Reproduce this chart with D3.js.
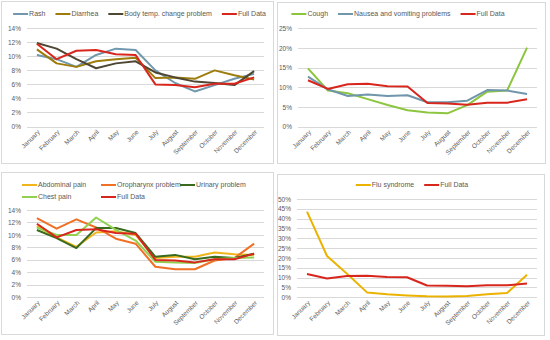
<!DOCTYPE html>
<html><head><meta charset="utf-8">
<script src="https://cdn.jsdelivr.net/npm/d3@7"></script>
<style>body{margin:0;background:#fff}svg{display:block}text{font-family:"Liberation Sans",Arial,sans-serif}</style>
</head><body><svg id="c" width="550" height="340"></svg>
<script>
const months = ["January","February","March","April","May","June","July","August","September","October","November","December"];
const fullData = [11.8,9.6,10.8,10.9,10.3,10.2,6.0,5.9,5.6,6.1,6.1,7.0];
const rash = [10.2,9.6,8.5,10.2,11.1,10.9,8.0,6.2,5.0,5.9,6.8,7.5];
const diarrhea = [11.0,9.0,8.5,9.3,9.6,9.8,6.9,7.0,6.8,8.0,7.3,6.7];
const bodyTemp = [11.9,11.1,9.6,8.3,9.0,9.3,7.7,7.0,6.4,6.2,5.9,7.9];
const cough = [14.8,9.2,8.5,7.0,5.5,4.2,3.6,3.4,5.5,8.9,9.2,20.1];
const nausea = [12.7,9.5,7.8,8.2,7.8,8.0,6.2,6.2,6.6,9.3,9.2,8.3];
const abdominal = [11.4,9.6,8.1,10.4,10.6,10.0,6.3,6.5,6.5,7.2,6.9,6.8];
const oropharynx = [12.7,11.0,12.5,11.2,9.4,8.6,4.9,4.5,4.5,5.9,6.3,8.6];
const urinary = [10.8,9.5,7.9,11.1,11.1,10.3,6.5,6.8,6.1,6.5,6.3,7.0];
const chestPain = [11.2,10.0,10.0,12.8,10.8,9.1,5.7,5.6,5.5,6.1,6.3,6.4];
const flu = [43.6,21.0,12.0,2.5,1.5,0.9,0.5,0.4,0.6,1.5,2.2,11.5];
const ticks1 = [0,2,4,6,8,10,12,14];
const ticks2 = [0,5,10,15,20,25];
const ticks4 = [0,5,10,15,20,25,30,35,40,45,50];

const svg = d3.select("#c");
const panels = [
  {box:[1,1,273,163], x:[27,264], y:[126.5,28.3], ticks:ticks1,
   series:[["Rash",rash,"#7097ad"],["Diarrhea",diarrhea,"#9e7c0c"],["Body temp. change problem",bodyTemp,"#4e4733"],["Full Data",fullData,"#d8261d"]],
   legend:{type:"row", y:14, cx:139.5}},
  {box:[277,2,545,163], x:[298,537], y:[126.7,28.3], ticks:ticks2,
   series:[["Cough",cough,"#8cc63f"],["Nausea and vomiting problems",nausea,"#6f96ab"],["Full Data",fullData,"#d8261d"]],
   legend:{type:"row", y:14, cx:398}},
  {box:[1,172,273,334], x:[27,264], y:[297.3,210], ticks:ticks1,
   series:[["Abdominal pain",abdominal,"#f2b41b"],["Oropharynx problem",oropharynx,"#f07025"],["Urinary problem",urinary,"#386b1d"],["Chest pain",chestPain,"#92d050"],["Full Data",fullData,"#d8261d"]],
   legend:{type:"grid", x0:22, colW:79, rows:[185,197], perRow:3}},
  {box:[277,174,544,335], x:[297,537], y:[297.3,199], ticks:ticks4,
   series:[["Flu syndrome",flu,"#ebb300"],["Full Data",fullData,"#d8261d"]],
   legend:{type:"row", y:185, cx:412}}
];

panels.forEach(p => {
  const g = svg.append("g");
  const [bx0,by0,bx1,by1] = p.box;
  g.append("rect").attr("x",bx0+0.5).attr("y",by0+0.5).attr("width",bx1-bx0).attr("height",by1-by0)
    .attr("fill","#fff").attr("stroke","#d9d9d9").attr("stroke-width",1);
  const x = d3.scalePoint().domain(months).range(p.x).padding(0.5);
  const ymax = p.ticks[p.ticks.length-1];
  const y = d3.scaleLinear().domain([0,ymax]).range(p.y);
  g.append("g").selectAll("line").data(p.ticks).join("line")
    .attr("x1",p.x[0]).attr("x2",p.x[1])
    .attr("y1",d=>Math.round(y(d))+0.5).attr("y2",d=>Math.round(y(d))+0.5)
    .attr("stroke","#d9d9d9").attr("stroke-width",1);
  const ya = d3.axisLeft(y).tickValues(p.ticks).tickSize(0).tickPadding(6).tickFormat(d=>d+"%");
  const yg = g.append("g").attr("transform",`translate(${p.x[0]},0)`).call(ya);
  yg.select(".domain").remove();
  yg.selectAll("text").attr("fill","#595959").style("font-size","6.5px").style("font-family","'Liberation Sans',Arial,sans-serif");
  const xa = d3.axisBottom(x).tickSize(0).tickPadding(0);
  const xg = g.append("g").attr("transform",`translate(0,${p.y[0]})`).call(xa);
  xg.select(".domain").remove();
  xg.selectAll("text").attr("fill","#595959").style("font-size","6.5px")
    .style("font-family","'Liberation Sans',Arial,sans-serif")
    .attr("text-anchor","end").attr("dy",null).attr("y",null)
    .attr("transform","translate(3,6) rotate(-45)");
  const line = d3.line().x((d,i)=>x(months[i])).y(d=>y(d));
  p.series.forEach(s => {
    g.append("path").datum(s[1]).attr("d",line).attr("fill","none")
      .attr("stroke",s[2]).attr("stroke-width",2).attr("stroke-linejoin","round");
  });
  const lg = g.append("g");
  const items = p.series.map(s => {
    const it = lg.append("g");
    it.append("line").attr("x1",0).attr("x2",15).attr("y1",0).attr("y2",0).attr("stroke",s[2]).attr("stroke-width",2);
    const t = it.append("text").attr("x",16).attr("y",0).attr("dy","0.35em").attr("fill","#595959")
      .style("font-size","7px").text(s[0]);
    return {it, w: 16 + t.node().getComputedTextLength()};
  });
  if (p.legend.type === "row") {
    const gap = 10;
    const total = d3.sum(items, d=>d.w) + gap*(items.length-1);
    let cx = p.legend.cx - total/2;
    items.forEach(d => { d.it.attr("transform",`translate(${cx},${p.legend.y})`); cx += d.w + gap; });
  } else {
    items.forEach((d,i) => {
      const r = Math.floor(i/p.legend.perRow), c = i % p.legend.perRow;
      d.it.attr("transform",`translate(${p.legend.x0 + c*p.legend.colW},${p.legend.rows[r]})`);
    });
  }
});
</script></body></html>
